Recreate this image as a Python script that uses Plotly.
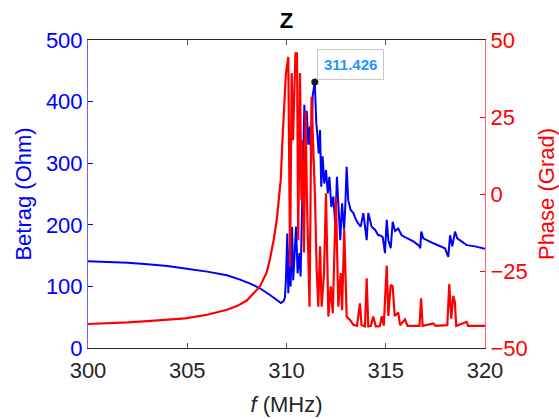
import plotly.graph_objects as go

# Impedance magnitude |Z| (Ohm) versus frequency (MHz)
freq_mag = [
    300.00, 301.00, 302.00, 303.00, 304.00, 304.89, 306.00, 307.00, 307.66, 308.20,
    308.66, 309.17, 309.50, 309.72, 309.85, 309.92, 309.97, 310.04, 310.09, 310.18,
    310.21, 310.28, 310.34, 310.43, 310.48, 310.56, 310.65, 310.71, 310.80, 310.85,
    310.90, 310.96, 311.02, 311.10, 311.18, 311.25, 311.32, 311.426, 311.45, 311.50,
    311.55, 311.62, 311.69, 311.75, 311.82, 311.90, 311.99, 312.08, 312.16, 312.26,
    312.36, 312.46, 312.54, 312.63, 312.71, 312.80, 312.90, 312.96, 313.03, 313.11,
    313.23, 313.37, 313.50, 313.62, 313.74, 313.87, 313.97, 314.04, 314.12, 314.29,
    314.46, 314.62, 314.71, 314.85, 314.96, 315.05, 315.13, 315.25, 315.35, 315.47,
    315.63, 315.80, 315.97, 316.39, 316.68, 316.74, 316.79, 316.89, 317.40, 317.98,
    318.15, 318.24, 318.35, 318.49, 318.60, 319.08, 319.50, 319.91, 320.00,
]
magnitude = [
    141, 140, 138.5, 136, 133, 129, 124, 118, 111, 104,
    97, 86, 78, 73, 76, 82, 110, 186, 89, 175,
    100, 197, 110, 164, 197, 121, 154, 116, 260, 330,
    395, 340, 385, 330, 360, 300, 410, 432, 403, 365,
    349, 316, 354, 262, 311, 267, 289, 251, 278, 229,
    246, 197, 278, 219, 175, 235, 192, 229, 294, 240,
    224, 219, 208, 202, 197, 219, 192, 175, 219, 197,
    192, 183, 183, 180, 154, 208, 175, 162, 205, 190,
    194, 183, 180, 173, 166, 162, 189, 178, 170, 162,
    148, 183, 165, 189, 178, 167, 165, 162, 161,
]

# Impedance phase (degrees) versus frequency (MHz)
freq_phase = [
    300.00, 301.00, 302.00, 303.00, 304.00, 304.89, 306.00, 307.00, 307.50, 308.00,
    308.66, 309.00, 309.17, 309.35, 309.51, 309.71, 309.80, 309.88, 309.97, 310.09,
    310.18, 310.26, 310.33, 310.45, 310.53, 310.59, 310.68, 310.75, 310.80, 310.88,
    310.96, 311.03, 311.16, 311.26, 311.34, 311.44, 311.52, 311.60, 311.69, 311.77,
    311.89, 311.99, 312.11, 312.23, 312.33, 312.49, 312.61, 312.73, 312.80, 312.91,
    313.03, 313.20, 313.37, 313.55, 313.70, 313.78, 313.95, 314.04, 314.12, 314.25,
    314.37, 314.50, 314.70, 314.80, 314.90, 315.05, 315.13, 315.25, 315.35, 315.45,
    315.63, 315.72, 315.97, 316.10, 316.70, 316.78, 316.86, 317.40, 317.50, 318.10,
    318.20, 318.30, 318.40, 318.48, 318.55, 319.08, 319.15, 320.00,
]
phase = [
    -42.2, -42.0, -41.7, -41.3, -40.8, -40.4, -39.2, -37.6, -36.4, -34.6,
    -30.0, -25.5, -21.0, -15.0, -8.4, 4.5, 18.0, 30.0, 39.0, 44.5,
    -23.6, 39.3, 17.5, 45.7, 45.7, -15.0, 39.3, -2.0, 17.5, -19.0,
    27.0, -2.0, -36.6, 31.6, 17.5, -2.0, -24.7, -36.6, -17.0, -36.6,
    -25.7, 0.2, -39.8, -30.0, -38.7, -0.9, -36.6, -25.7, -37.7, -11.7,
    -39.8, -40.9, -42.5, -42.8, -35.5, -42.5, -43.0, -27.4, -43.0, -42.8,
    -39.8, -43.0, -42.9, -39.7, -42.8, -23.2, -39.6, -29.5, -30.0, -39.6,
    -38.5, -42.6, -40.7, -42.8, -42.8, -33.9, -42.8, -42.0, -42.8, -42.6,
    -29.2, -40.5, -33.1, -35.0, -42.8, -41.5, -42.8, -42.8,
]

# Data tip on the magnitude maximum
tip_freq = 311.426
tip_mag = 432

x_ticks = [300, 305, 310, 315, 320]
mag_ticks = [0, 100, 200, 300, 400, 500]
phase_ticks = [-50, -25, 0, 25, 50]

BLUE = "rgb(0,0,255)"
RED = "rgb(255,0,0)"
FONT = "Liberation Sans, Arial, Helvetica, sans-serif"

fig = go.Figure()
fig.add_trace(go.Scatter(x=freq_mag, y=magnitude, mode="lines",
                         line=dict(color=BLUE, width=2), yaxis="y",
                         showlegend=False, hoverinfo="skip"))
fig.add_trace(go.Scatter(x=[tip_freq], y=[tip_mag], mode="markers",
                         marker=dict(color="#1a1a1a", size=7), yaxis="y",
                         showlegend=False, hoverinfo="skip"))
fig.add_trace(go.Scatter(x=freq_phase, y=phase, mode="lines",
                         line=dict(color=RED, width=2.2), yaxis="y2",
                         showlegend=False, hoverinfo="skip"))

fig.add_annotation(x=tip_freq, y=tip_mag, xref="x", yref="y",
                   text=f"<b>{tip_freq:.3f}</b>", showarrow=False,
                   xanchor="left", yanchor="bottom", xshift=2, yshift=2,
                   bgcolor="white", bordercolor="#c8c8c8", borderwidth=1,
                   borderpad=6, font=dict(family=FONT, size=15, color="#1e96ff"))

fig.update_layout(
    width=559, height=419,
    margin=dict(l=88, r=74, t=40, b=71, autoexpand=False),
    paper_bgcolor="white", plot_bgcolor="white",
    font=dict(family=FONT, size=22, color="#262626"),
    title=dict(text="<b>Z</b>", x=0.5125, xanchor="center",
               y=1 - 20 / 419, yanchor="middle",
               font=dict(family=FONT, size=22, color="black")),
    xaxis=dict(range=[300, 320], tickvals=x_ticks, ticks="inside", ticklen=5,
               tickcolor="#555555", showline=True, linecolor="#262626",
               linewidth=1, mirror="ticks", showgrid=False, zeroline=False,
               ticklabelstandoff=3, automargin=False,
               tickfont=dict(size=22, color="#262626"),
               title=dict(text="<i>f</i> (MHz)", standoff=14,
                          font=dict(size=22, color="#262626"))),
    yaxis=dict(range=[0, 500], tickvals=mag_ticks, ticks="inside", ticklen=5,
               tickcolor=BLUE, showline=True, linecolor="rgba(0,0,255,0.6)",
               linewidth=1, showgrid=False, zeroline=False, automargin=False,
               tickfont=dict(size=22, color=BLUE),
               title=dict(text="Betrag (Ohm)", standoff=8,
                          font=dict(size=22, color=BLUE))),
    yaxis2=dict(range=[-50, 50], tickvals=phase_ticks, ticks="inside", ticklen=5,
                tickcolor=RED, showline=True, linecolor="rgba(255,0,0,0.6)",
                linewidth=1, showgrid=False, zeroline=False, side="right",
                overlaying="y", automargin=False, tickfont=dict(size=22, color=RED),
                title=dict(text="Phase (Grad)", standoff=13,
                           font=dict(size=22, color=RED))),
)

fig.write_html("out.html")
